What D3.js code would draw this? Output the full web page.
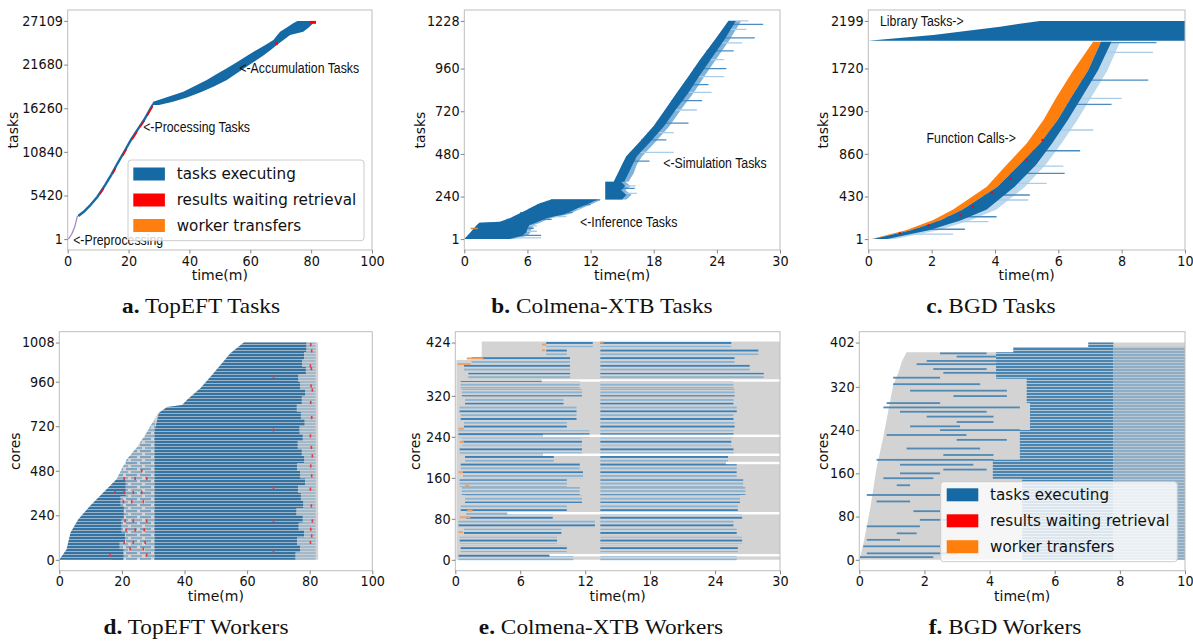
<!DOCTYPE html>
<html>
<head>
<meta charset="utf-8">
<script src="https://cdn.jsdelivr.net/npm/d3@7"></script>
<style>
  body { margin: 0; background: #fff; }
  svg { display: block; }
</style>
</head>
<body>
<svg id="fig" width="1193" height="642"></svg>
<script>
// ---------- data (time in minutes) ----------

// a. TopEFT tasks
const aTicksX = [0, 20, 40, 60, 80, 100];
const aTicksY = [1, 5420, 10840, 16260, 21680, 27109];
const aPreTask = [1, 600, 1500, 2874];
const aPreTime = [0.2, 1.3, 2.3, 3.2];
const aProcTask = [2874, 3400, 4150, 5273, 6700, 7950, 9418, 10850, 12313, 13600, 14797, 16665];
const aProcTime = [3.2, 5, 7, 9.5, 12, 14, 16.1, 18.3, 20.5, 22.7, 24.8, 27.6];
const aProcDur = 0.55;
const aProcRed = [[5600, 6300], [8100, 8800], [10300, 11200], [12400, 13300], [13900, 14700], [15300, 16500]];
const aAccTask = [16665, 17070, 17600, 18300, 19000, 19770, 20500, 21220, 22000, 22800, 23500, 24100, 24740, 25360, 25770, 26300, 26810, 27109];
const aAccStart = [27.6, 28.1, 32.3, 38.0, 41.6, 45.7, 49.0, 52.3, 55.7, 59.1, 62.1, 64.8, 67.6, 68.9, 69.8, 72.0, 74.1, 75.5];
const aAccEnd = [30.0, 34.6, 39.2, 44.1, 48.2, 52.3, 55.2, 58.0, 61.1, 64.3, 66.7, 68.6, 70.9, 73.1, 77.4, 79.2, 80.7, 81.5];
const aRed = [[26750, 27109, 79.6, 81.6], [24100, 24450, 68.2, 69.0]];
const aNotes = [["<-Preprocessing", 1.8, -150], ["<-Processing Tasks", 24.8, 13965], ["<-Accumulation Tasks", 56.4, 21295]];

// b. Colmena-XTB tasks
const bTicksX = [0, 6, 12, 18, 24, 30];
const bTicksY = [1, 240, 480, 720, 960, 1228];
const bInfTask = [1, 20, 40, 60, 80, 93, 98, 118, 140, 165, 185, 202, 224];
const bInfStart = [0, 0.3, 0.6, 0.9, 1.2, 1.43, 3.4, 4.34, 5.1, 5.93, 6.6, 7.2, 8.3];
const bInfEnd = [4.3, 5.5, 5.9, 6.0, 6.2, 6.8, 7.0, 7.8, 9.5, 10.4, 11.2, 11.9, 12.7];
const bInfLight = [4.7, 6.0, 6.3, 6.4, 6.6, 7.2, 7.4, 8.2, 9.9, 10.8, 11.6, 12.3, 13.0];
const bInfWhisk = [[8, 2.0, 7.3], [22, 2.0, 7.3], [45, 2.0, 6.9], [62, 2.0, 6.6], [75, 2.0, 6.9], [112, 4.0, 8.3],
  [128, 4.6, 9.7], [150, 5.3, 10.3], [172, 6.1, 11.0], [195, 6.9, 12.0], [214, 7.8, 12.4], [222, 8.2, 12.9]];
const bSimTask = [224, 250, 275, 300, 323, 324, 371, 420, 467, 550, 637, 730, 824, 915, 1009, 1120, 1228];
const bSimStart = [13.4, 13.4, 13.4, 13.4, 13.4, 14.2, 14.6, 15.0, 15.4, 16.7, 18.0, 19.1, 20.2, 21.3, 22.4, 23.8, 25.1];
const bSimEnd = [15.0, 15.4, 14.9, 15.3, 14.9, 15.2, 15.6, 16.0, 16.4, 17.7, 19.0, 20.1, 21.3, 22.3, 23.4, 24.7, 25.8];
const bSimLight = [15.4, 15.9, 15.3, 15.8, 15.3, 15.6, 16.1, 16.4, 16.9, 18.2, 19.5, 20.6, 21.8, 22.8, 23.9, 25.2, 26.3];
const bSimWhisk = [[258, 14.0, 16.4], [286, 14.0, 16.2], [300, 13.6, 16.3], [440, 15.2, 17.6], [489, 15.7, 19.9],
  [559, 16.8, 19.2], [600, 17.4, 19.9], [653, 18.2, 21.3], [727, 19.1, 22.1], [780, 19.7, 22.6], [826, 20.2, 23.5],
  [870, 20.8, 23.2], [915, 21.3, 24.7], [960, 21.8, 24.9], [1010, 22.4, 24.7], [1060, 23.0, 25.6], [1105, 23.6, 26.4],
  [1133, 24.0, 27.6], [1180, 24.6, 26.8], [1209, 24.9, 28.4], [1228, 25.1, 27.0]];
const bNotes = [["<-Simulation Tasks", 18.9, 427], ["<-Inference Tasks", 11.0, 99]];

// c. BGD tasks
const cTicksX = [0, 2, 4, 6, 8, 10];
const cTicksY = [1, 430, 860, 1290, 1720, 2199];
const cLibTask = [1999, 2057, 2141, 2199];
const cLibStart = [0, 2.05, 4.16, 5.42];
const cFnTask = [1, 93, 193, 300, 528, 750, 965, 1200, 1435, 1700, 1989];
const cFnStart = [0.1, 1.21, 2.05, 2.68, 3.74, 4.37, 5.0, 5.53, 5.95, 6.47, 7.1];
const cFnExec = [0.15, 1.38, 2.3, 2.98, 4.08, 4.77, 5.42, 5.98, 6.42, 6.94, 7.35];
const cFnEnd = [0.6, 1.95, 2.95, 3.74, 4.62, 5.3, 5.8, 6.3, 6.75, 7.25, 7.68];
const cFnLight = [0.85, 2.25, 3.25, 4.05, 4.95, 5.6, 6.1, 6.6, 7.05, 7.55, 7.95];
const cWhisk = [[52, 1.0, 2.68], [100, 1.4, 3.05], [176, 2.0, 3.79], [226, 2.3, 4.05], [395, 3.3, 5.05], [445, 3.5, 5.1],
  [563, 3.9, 5.63], [664, 4.2, 6.2], [737, 4.4, 6.16], [891, 4.8, 6.69], [1100, 5.4, 7.1], [1359, 5.9, 7.68],
  [1419, 6.0, 8.0], [1602, 6.4, 8.84], [1883, 6.9, 8.99], [1980, 7.2, 9.1]];
const cRed = [[60, 1.0], [140, 1.9], [240, 2.9], [330, 3.3], [470, 3.9], [610, 4.5], [800, 5.0], [1000, 5.5]];
const cNotes = [["Library Tasks->", 0.37, 2201], ["Function Calls->", 1.84, 1016]];

// d. TopEFT workers
const dTicksX = [0, 20, 40, 60, 80, 100];
const dTicksY = [0, 240, 480, 720, 960, 1171];
const dTickLabels = ["0", "240", "480", "720", "960", "1008"];
const dEnvCore = [0, 57, 97, 147, 219, 290, 344, 434, 541, 604, 685, 747, 792, 824, 835, 863, 926, 1007, 1114, 1171];
const dEnvStart = [0, 2.36, 2.9, 3.6, 6.1, 9.8, 13.0, 18.3, 21.5, 24.7, 27.9, 30.0, 31.6, 34.3, 39.1, 40.7, 45, 49.2, 54.5, 58.8];
const dGrayEnd = 82.7;
const dMixCore = [0, 434, 541, 604, 685, 747];
const dMixStart = [16, 18.3, 21.5, 24.7, 27.9, 30.0];
const dMixEnd = 30.6;
const dEarlyCore = [0, 57, 97, 147, 219, 290, 344, 434];
const dEarlyStart = [0, 2.36, 2.9, 3.6, 6.1, 9.8, 13.0, 18.3];
const dEarlyEnd = [20.5, 19.2, 21.0, 19.8, 20.6, 19.5, 21.2, 20.0];
const dBusyCore = [0, 700, 792, 824, 835, 863, 926, 1007, 1114, 1171];
const dBusyStart = [30.5, 30.5, 31.8, 34.5, 39.3, 40.9, 45.2, 49.4, 54.7, 59.0];
const dEndCore = [0, 40, 80, 120, 160, 200, 240, 280, 320, 360, 400, 440, 480, 520, 560, 600, 640, 680, 720, 760, 800, 840, 880, 920, 960, 1000, 1040, 1080, 1120, 1171];
const dEndTime = [75.5, 77.0, 76.0, 78.2, 76.5, 77.8, 75.8, 78.0, 77.2, 76.3, 78.5, 77.0, 76.0, 78.3, 77.5, 76.2, 77.8, 76.8, 78.4, 77.2, 75.9, 77.5, 78.6, 77.0, 76.4, 78.8, 77.6, 78.2, 79.0, 78.4];
const dLightEnd = 81.9;
const dRed = [[1160, 80.3], [1126, 80.6], [1045, 80.2], [1030, 80.5], [937, 80.4], [915, 80.8], [848, 80.3], [767, 80.6],
  [668, 80.2], [606, 80.5], [560, 80.8], [506, 80.3], [453, 80.6], [381, 80.2], [291, 80.5], [210, 80.8], [165, 80.3],
  [129, 80.6], [94, 80.2], [985, 68.4], [700, 68.4], [390, 68.4], [210, 68.4], [40, 68.4]];
const dMixRed = [[480, 26.3], [438, 20.7], [438, 24.2], [438, 27.9], [363, 17.8], [363, 20.7], [363, 23.6], [363, 26.3],
  [313, 20.45], [313, 23.1], [313, 26.8], [210, 21.0], [210, 23.6], [210, 27.9], [161, 21.3], [161, 24.2], [161, 27.1],
  [94, 20.7], [94, 23.6], [94, 27.4], [58, 22.6], [58, 26.8], [26, 16.2], [26, 27.9]];

// e. Colmena-XTB workers
const eTicksX = [0, 6, 12, 18, 24, 30];
const eTicksY = [0, 80, 160, 240, 320, 424];
const eGrayCore = [0, 390, 390, 426];
const eGrayStart = [0.1, 0.1, 2.44, 2.44];
const eRowCore = [6, 22, 38, 54, 70, 86, 102, 118, 134, 150, 166, 182, 198, 214, 230, 246, 262, 278, 294, 310, 326, 342, 358, 374, 390, 406, 422];
const eP1Start = [0.3, 0.5, 0.4, 0.8, 0.3, 1.0, 0.5, 0.9, 0.6, 0.4, 0.7, 0.5, 0.9, 0.4, 0.6, 0.3, 0.8, 0.5, 0.4, 0.9, 0.6, 0.5, 1.2, 0.8, 1.5, 8.4, 8.4];
const eP1End = [10.9, 10.3, 9.4, 9.8, 12.9, 9.0, 10.3, 11.7, 11.5, 10.3, 11.8, 11.5, 9.1, 11.7, 11.7, 12.4, 10.3, 11.2, 11.2, 10.0, 11.7, 11.5, 10.6, 10.6, 10.6, 10.3, 12.7];
const eP2Start = 13.4;
const eP2End = [26.0, 26.1, 26.5, 26.0, 25.7, 26.5, 26.1, 26.3, 26.8, 26.6, 26.0, 26.0, 25.2, 25.7, 25.5, 25.7, 25.8, 25.7, 26.0, 25.7, 25.8, 25.7, 28.5, 27.2, 25.8, 28.0, 25.5];
const eGapCore = [350, 242, 205, 189, 91, 9];
const eGapStart = [7.98, 8.1, 8.1, 25.0, 4.8, 8.7];
const eOrange = [[420, 8.0, 8.4], [409, 8.0, 8.3], [393, 1.05, 2.6], [382, 0.2, 1.4], [256, 0.3, 0.8], [230, 0.4, 0.8],
  [171, 0.3, 0.7], [145, 0.9, 1.3], [96, 1.1, 1.6], [83, 0.4, 1.4], [54, 0.3, 0.7], [424, 13.4, 13.7]];

// f. BGD workers
const fTicksX = [0, 2, 4, 6, 8, 10];
const fTicksY = [0, 80, 160, 240, 320, 402];
const fEnvCore = [0, 28, 93, 170, 228, 276, 323, 346, 366, 384, 384, 394, 394, 402];
const fEnvStart = [0, 0.12, 0.33, 0.53, 0.74, 0.89, 1.04, 1.2, 1.3, 1.45, 4.73, 4.73, 7.03, 7.03];
const fDenseCore = [0, 150, 150, 185, 185, 240, 240, 290, 290, 335, 335, 384, 384, 394, 394, 402];
const fDenseStart = [5.0, 5.0, 4.1, 4.1, 4.93, 4.93, 5.24, 5.24, 5.14, 5.14, 4.2, 4.2, 4.73, 4.73, 7.03, 7.03];
const fLightStart = 7.8;
const fBars = [[382, 2.48, 3.91], [376, 2.99, 4.73], [368, 2.07, 4.22], [362, 1.76, 4.32], [353, 2.27, 3.91],
  [346, 2.58, 4.32], [337, 1.04, 2.48], [325, 1.04, 3.71], [313, 1.56, 4.53], [303, 2.89, 4.53], [290, 0.84, 2.48],
  [282, 0.74, 4.93], [274, 1.25, 3.91], [265, 2.07, 4.12], [255, 2.99, 4.12], [247, 1.56, 3.09], [240, 2.48, 4.93],
  [231, 0.84, 3.29], [222, 2.99, 4.53], [206, 1.45, 3.71], [194, 2.58, 4.12], [185, 0.53, 4.12], [176, 1.25, 3.5],
  [167, 2.58, 3.91], [160, 1.25, 2.48], [151, 0.74, 2.27], [138, 1.15, 1.56], [120, 0.23, 2.48], [108, 0.53, 1.56],
  [90, 1.66, 2.48], [74, 1.86, 3.09], [62, 0.23, 1.86], [49, 1.15, 1.76], [37, 0.23, 1.25], [25, 0.12, 2.48],
  [12, 0.23, 3.01], [5, 0.02, 2.27]];

const legendNames = ["tasks executing", "results waiting retrieval", "worker transfers"];

// ---------- styles ----------
const BLUE = "#156aa5", RED = "#ff0000", ORANGE = "#ff7f0e", GRAY = "#d3d3d3";
const LIGHT = "#a9cde9", MED = "#4a8cc2";
const legendColors = [BLUE, RED, ORANGE];
const SANS = "'DejaVu Sans', sans-serif";
const ARIAL = "'Liberation Sans', Arial, sans-serif";
const SERIF = "'Liberation Serif', serif";

const svg = d3.select("#fig");
svg.append("rect").attr("width", 1193).attr("height", 642).attr("fill", "#fff");
const defs = svg.append("defs");

function pattern(id, w, h, rects) {
  const p = defs.append("pattern").attr("id", id).attr("patternUnits", "userSpaceOnUse")
    .attr("width", w).attr("height", h);
  rects.forEach(r => p.append("rect").attr("x", r[0]).attr("y", r[1])
    .attr("width", r[2]).attr("height", r[3]).attr("fill", r[4]));
}
pattern("pD", 10, 3, [[0, 0, 10, 2.2, "#3673a1"], [0, 2.2, 10, 0.8, "#93b0c5"]]);
pattern("pDlight", 10, 3, [[0, 0, 10, 2.2, "#a3b9c9"], [0, 2.2, 10, 0.8, "#c8d0d6"]]);
pattern("pDmix", 14, 6, [[0, 0, 11, 2.2, "#7ea2c0"], [5, 3, 9, 2.2, "#8eaec6"], [0, 3, 2, 2.2, "#8eaec6"]]);
pattern("pE", 10, 7.6, [[0, 0, 10, 1.9, "#3c80b8"], [0, 3.8, 10, 1.9, "#8bb5d6"]]);
pattern("pF", 10, 3, [[0, 0, 10, 2, "#4a84b1"], [0, 2, 10, 1, "#b0c3d1"]]);
pattern("pFlight", 10, 3, [[0, 0, 10, 2.1, "#8fadc4"], [0, 2.1, 10, 0.9, "#b5c6d2"]]);

// one matplotlib-like axes box
function panel(o) {
  const x = d3.scaleLinear().domain(o.xd).range([o.l, o.r]);
  const y = d3.scaleLinear().domain(o.yd).range([o.b, o.t]);
  defs.append("clipPath").attr("id", "clip-" + o.key)
    .append("rect").attr("x", o.l).attr("y", o.t).attr("width", o.r - o.l).attr("height", o.b - o.t);
  const plot = svg.append("g").attr("clip-path", `url(#clip-${o.key})`);
  const over = svg.append("g");

  over.append("rect").attr("x", o.l).attr("y", o.t).attr("width", o.r - o.l).attr("height", o.b - o.t)
    .attr("fill", "none").attr("stroke", "#bdbdbd").attr("stroke-width", 1);

  const labels = o.yl || o.yt;
  const xa = over.append("g").attr("transform", `translate(0,${o.b})`)
    .call(d3.axisBottom(x).tickValues(o.xt).tickSize(3.5).tickPadding(2.5).tickFormat(d => d));
  const ya = over.append("g").attr("transform", `translate(${o.l},0)`)
    .call(d3.axisLeft(y).tickValues(o.yt).tickSize(3.5).tickPadding(1.5).tickFormat((d, i) => labels[i]));
  [xa, ya].forEach(a => {
    a.select(".domain").remove();
    a.selectAll("line").attr("stroke", "#666").attr("stroke-width", 0.8);
    a.selectAll("text").attr("fill", "#111").style("font-family", SANS).style("font-size", "13.5px")
      .attr("transform", "scale(0.95,1)");
  });

  over.append("text").attr("x", (o.l + o.r) / 2).attr("y", o.b + 30).attr("text-anchor", "middle")
    .style("font-family", SANS).style("font-size", "14px").attr("fill", "#111").text("time(m)");
  over.append("text").attr("transform", `translate(${o.ylx},${(o.t + o.b) / 2}) rotate(-90)`)
    .attr("text-anchor", "middle").attr("dominant-baseline", "central")
    .style("font-family", SANS).style("font-size", "14px").attr("fill", "#111").text(o.yname);

  const cap = svg.append("text").attr("transform", `translate(${o.capX},${o.capY}) scale(1.06,1)`)
    .attr("text-anchor", "middle").style("font-family", SERIF).style("font-size", "22px").attr("fill", "#111");
  cap.append("tspan").attr("font-weight", "bold").text(o.letter + ".");
  cap.append("tspan").text(" " + o.caption);
  return { x, y, plot, over };
}

function notes(P, list) {
  list.forEach(n => P.over.append("text")
    .attr("transform", `translate(${P.x(n[1])},${P.y(n[2])}) scale(0.85,1)`)
    .attr("dominant-baseline", "central").style("font-family", ARIAL).style("font-size", "14.5px")
    .attr("fill", "#111").text(n[0]));
}

function legend(P, box, rowY, patchX, textX) {
  P.over.append("rect").attr("x", box[0]).attr("y", box[1]).attr("width", box[2] - box[0]).attr("height", box[3] - box[1])
    .attr("rx", 3).attr("fill", "#fff").attr("fill-opacity", 0.8).attr("stroke", "#cccccc").attr("stroke-width", 1);
  legendNames.forEach((name, i) => {
    P.over.append("rect").attr("x", patchX).attr("y", rowY[i] - 6.5).attr("width", 31.6).attr("height", 13)
      .attr("fill", legendColors[i]);
    P.over.append("text").attr("transform", `translate(${textX},${rowY[i]}) scale(0.95,1)`)
      .attr("dominant-baseline", "central").style("font-family", SANS).style("font-size", "16px")
      .attr("fill", "#111").text(name);
  });
}

function ganttArea(P, task, x0, x1) {
  return d3.area().y(d => P.y(d[0])).x0(d => P.x(d[1])).x1(d => P.x(d[2]))(d3.zip(task, x0, x1));
}
function steps(us, ts) {
  const out = [];
  for (let i = 0; i < us.length - 1; i++) out.push([ts[i], us[i]], [ts[i], us[i + 1]]);
  return out;
}
function polygon(P, pts) {
  return d3.line().x(p => P.x(p[0])).y(p => P.y(p[1]))(pts) + "Z";
}

// ---------- a. TopEFT Tasks ----------
const A = panel({ key: "a", l: 67.7, r: 372, t: 10, b: 250, xd: [0, 100], yd: [-1354, 28464],
  xt: aTicksX, yt: aTicksY, yname: "tasks", ylx: 13.3, capX: 201, capY: 313, letter: "a", caption: "TopEFT Tasks" });

A.plot.append("path").datum(d3.zip(aPreTime, aPreTask))
  .attr("d", d3.line().x(d => A.x(d[0])).y(d => A.y(d[1])))
  .attr("fill", "none").attr("stroke", "#a47cc0").attr("stroke-width", 1.2);
const procT = d3.scaleLinear().domain(aProcTask).range(aProcTime);
A.plot.append("path").datum(d3.zip(aProcTime, aProcTask))
  .attr("d", d3.line().x(d => A.x(d[0] + aProcDur / 2)).y(d => A.y(d[1])))
  .attr("fill", "none").attr("stroke", BLUE).attr("stroke-width", 2.4);
aProcRed.forEach(s => A.plot.append("line")
  .attr("x1", A.x(procT(s[0]) + aProcDur)).attr("y1", A.y(s[0]))
  .attr("x2", A.x(procT(s[1]) + aProcDur)).attr("y2", A.y(s[1]))
  .attr("stroke", RED).attr("stroke-width", 1.4));
A.plot.append("path").attr("d", ganttArea(A, aAccTask, aAccStart, aAccEnd)).attr("fill", BLUE);
aRed.forEach(r => A.plot.append("rect").attr("x", A.x(r[2])).attr("y", A.y(r[1]))
  .attr("width", A.x(r[3]) - A.x(r[2])).attr("height", A.y(r[0]) - A.y(r[1])).attr("fill", RED));
notes(A, aNotes);
legend(A, [128, 160, 364, 240.7], [174, 200, 225.5], 133.3, 176.7);

// ---------- b. Colmena-XTB Tasks ----------
const B = panel({ key: "b", l: 464.3, r: 780, t: 10, b: 250, xd: [0, 30], yd: [-60.35, 1289.35],
  xt: bTicksX, yt: bTicksY, yname: "tasks", ylx: 420, capX: 602, capY: 313, letter: "b", caption: "Colmena-XTB Tasks" });

[[bInfTask, bInfStart, bInfEnd, bInfLight, bInfWhisk], [bSimTask, bSimStart, bSimEnd, bSimLight, bSimWhisk]]
  .forEach(([task, s, e, l, wh]) => {
    B.plot.append("path").attr("d", ganttArea(B, task, s, l)).attr("fill", "#7fb3dc");
    wh.forEach((w, i) => B.plot.append("line").attr("x1", B.x(w[1])).attr("x2", B.x(w[2]))
      .attr("y1", B.y(w[0])).attr("y2", B.y(w[0]))
      .attr("stroke", i % 2 ? MED : LIGHT).attr("stroke-width", 1.3));
    B.plot.append("path").attr("d", ganttArea(B, task, s, e)).attr("fill", BLUE);
  });
B.plot.append("line").attr("x1", B.x(0.6)).attr("x2", B.x(1.3)).attr("y1", B.y(60)).attr("y2", B.y(60))
  .attr("stroke", "#c98a4a").attr("stroke-width", 1.5);
notes(B, bNotes);

// ---------- c. BGD Tasks ----------
const C = panel({ key: "c", l: 868.3, r: 1185, t: 10, b: 250, xd: [0, 10], yd: [-108.9, 2308.9],
  xt: cTicksX, yt: cTicksY, yname: "tasks", ylx: 823.3, capX: 991, capY: 313, letter: "c", caption: "BGD Tasks" });

C.plot.append("path").attr("d", ganttArea(C, cLibTask, cLibStart, cLibTask.map(() => 10.5))).attr("fill", BLUE);
C.plot.append("path").attr("d", ganttArea(C, cFnTask, cFnExec, cFnLight)).attr("fill", "#bcd8ec");
cWhisk.forEach((w, i) => C.plot.append("line").attr("x1", C.x(w[1])).attr("x2", C.x(w[2]))
  .attr("y1", C.y(w[0])).attr("y2", C.y(w[0]))
  .attr("stroke", i % 2 ? MED : LIGHT).attr("stroke-width", 1.3));
C.plot.append("path").attr("d", ganttArea(C, cFnTask, cFnStart, cFnExec)).attr("fill", ORANGE);
C.plot.append("path").attr("d", ganttArea(C, cFnTask, cFnExec, cFnEnd)).attr("fill", BLUE);
cRed.forEach(r => C.plot.append("rect").attr("x", C.x(r[1]) - 1).attr("y", C.y(r[0]) - 1)
  .attr("width", 2).attr("height", 2).attr("fill", RED));
notes(C, cNotes);

// ---------- d. TopEFT Workers ----------
const D = panel({ key: "d", l: 59.3, r: 372.3, t: 331.7, b: 570.7, xd: [0, 100], yd: [-58.5, 1229.5],
  xt: dTicksX, yt: dTicksY, yl: dTickLabels, yname: "cores", ylx: 15, capX: 196, capY: 634, letter: "d", caption: "TopEFT Workers" });

D.plot.append("path").attr("d", ganttArea(D, dEnvCore, dEnvStart, dEnvCore.map(() => dGrayEnd))).attr("fill", GRAY);
D.plot.append("path").attr("d", ganttArea(D, dMixCore, dMixStart, dMixCore.map(() => dMixEnd))).attr("fill", "url(#pDmix)");
D.plot.append("path").attr("d", polygon(D, d3.zip(dEarlyStart, dEarlyCore).concat(steps(dEarlyCore.concat([dEarlyCore[dEarlyCore.length - 1]]), dEarlyEnd).reverse())))
  .attr("fill", "url(#pD)");
D.plot.append("path").attr("d", polygon(D, d3.zip(dBusyStart, dBusyCore).concat(steps(dEndCore, dEndTime).reverse())))
  .attr("fill", "url(#pD)");
D.plot.append("path").attr("d", polygon(D, steps(dEndCore, dEndTime).concat([[dLightEnd, 1171], [dLightEnd, 0]])))
  .attr("fill", "url(#pDlight)");
dMixRed.concat(dRed).forEach(r => D.plot.append("rect").attr("x", D.x(r[1]) - 0.7).attr("y", D.y(r[0]) - 1.6)
  .attr("width", 1.6).attr("height", 3.2).attr("fill", "#e8383b"));

// ---------- e. Colmena-XTB Workers ----------
const E = panel({ key: "e", l: 455.3, r: 780, t: 331.7, b: 570.7, xd: [0, 30], yd: [-21.2, 445.2],
  xt: eTicksX, yt: eTicksY, yname: "cores", ylx: 415, capX: 601, capY: 634, letter: "e", caption: "Colmena-XTB Workers" });

E.plot.append("path").attr("d", ganttArea(E, eGrayCore, eGrayStart, eGrayCore.map(() => 30.5))).attr("fill", GRAY);
eRowCore.forEach((u, i) => {
  const y0 = E.y(u + 7), h = E.y(u - 7) - E.y(u + 7);
  E.plot.append("rect").attr("x", E.x(eP1Start[i])).attr("y", y0)
    .attr("width", E.x(eP1End[i]) - E.x(eP1Start[i])).attr("height", h).attr("fill", "url(#pE)");
  E.plot.append("rect").attr("x", E.x(eP2Start)).attr("y", y0)
    .attr("width", E.x(eP2End[i]) - E.x(eP2Start)).attr("height", h).attr("fill", "url(#pE)");
});
eOrange.forEach(o => E.plot.append("rect").attr("x", E.x(o[1])).attr("y", E.y(o[0]) - 1)
  .attr("width", E.x(o[2]) - E.x(o[1])).attr("height", 2).attr("fill", "#f0a060"));
eGapCore.forEach((u, i) => E.plot.append("rect").attr("x", E.x(eGapStart[i])).attr("y", E.y(u) - 1.2)
  .attr("width", E.x(30.5) - E.x(eGapStart[i])).attr("height", 2.4).attr("fill", "#fff"));

// ---------- f. BGD Workers ----------
const F = panel({ key: "f", l: 859.3, r: 1185, t: 331.7, b: 570.7, xd: [0, 10], yd: [-20.1, 422.1],
  xt: fTicksX, yt: fTicksY, yname: "cores", ylx: 823.3, capX: 1005, capY: 634, letter: "f", caption: "BGD Workers" });

F.plot.append("path").attr("d", ganttArea(F, fEnvCore, fEnvStart, fEnvCore.map(() => 10.5))).attr("fill", GRAY);
fBars.forEach(b => F.plot.append("rect").attr("x", F.x(b[1])).attr("y", F.y(b[0]) - 0.9)
  .attr("width", F.x(b[2]) - F.x(b[1])).attr("height", 1.8).attr("fill", "#5089b4"));
F.plot.append("path").attr("d", polygon(F, d3.zip(fDenseStart, fDenseCore).concat([[fLightStart, 402], [fLightStart, 0]])))
  .attr("fill", "url(#pF)");
F.plot.append("rect").attr("x", F.x(fLightStart)).attr("y", F.y(394)).attr("width", F.x(10.5) - F.x(fLightStart))
  .attr("height", F.y(0) - F.y(394)).attr("fill", "url(#pFlight)");
legend(F, [940.7, 481.7, 1177.3, 561.7], [494.8, 520.8, 546.7], 946.7, 990);
</script>
</body>
</html>
